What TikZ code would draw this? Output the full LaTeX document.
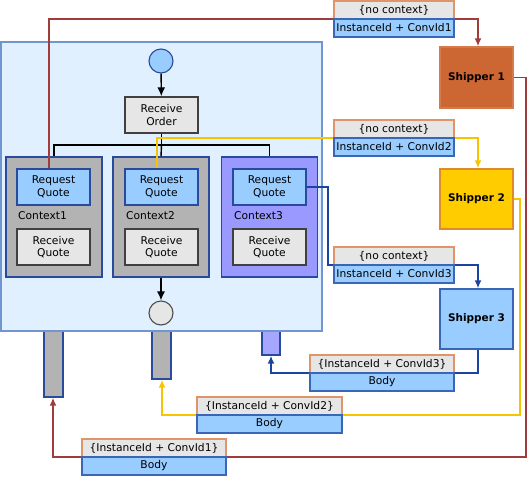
\documentclass[tikz,border=0pt]{standalone}
\usepackage{fontspec}
\setmainfont{DejaVu Sans}
\usetikzlibrary{arrows.meta}
\definecolor{contfill}{HTML}{E0F0FF}
\definecolor{contdraw}{HTML}{7095D0}
\definecolor{ctxgray}{HTML}{B3B3B3}
\definecolor{ctxblue}{HTML}{9999FF}
\definecolor{bar3fill}{HTML}{A6A6FF}
\definecolor{darkblue}{HTML}{2A4A9E}
\definecolor{lightblue}{HTML}{99CCFF}
\definecolor{boxgray}{HTML}{E6E6E6}
\definecolor{msgorange}{HTML}{E0946A}
\definecolor{msgblue}{HTML}{3A66B8}
\definecolor{shipA}{HTML}{CC6633}
\definecolor{shipAd}{HTML}{D67A4C}
\definecolor{shipB}{HTML}{FFCC00}
\definecolor{shipBd}{HTML}{E08A2E}
\definecolor{linered}{HTML}{A03C3C}
\definecolor{lineyellow}{HTML}{F8C400}
\definecolor{lineblue}{HTML}{1A44A0}
\tikzset{
  txt/.style={font=\fontsize{10.7}{12.7}\selectfont, align=center, inner sep=0pt, text=black},
  container/.style={draw=contdraw, fill=contfill, line width=1.4pt, inner sep=0pt},
  ctxbox/.style={draw=darkblue, fill=ctxgray, line width=1.4pt, inner sep=0pt, minimum width=96pt, minimum height=120pt},
  reqbox/.style={txt, draw=darkblue, fill=lightblue, line width=1.4pt, minimum width=73pt, minimum height=36pt},
  recbox/.style={txt, draw=black!75, fill=boxgray, line width=1.4pt, minimum width=73pt, minimum height=36pt},
  barbox/.style={draw=darkblue, fill=ctxgray, line width=1.4pt, inner sep=0pt, minimum width=19pt},
  ship/.style={txt, font=\fontsize{10.5}{12.5}\selectfont\bfseries, line width=1.4pt, minimum width=73pt, minimum height=60pt},
  msgup/.style={txt, draw=msgorange, fill=boxgray, line width=1.4pt, minimum height=18pt},
  msglo/.style={txt, draw=msgblue, fill=lightblue, line width=1.4pt, minimum height=18pt},
  circ/.style={circle, draw=black!70, line width=1.1pt, minimum size=24pt, inner sep=0pt},
  flow/.style={line width=1.4pt, black, -{Latex[length=9pt,width=8pt]}},
  bus/.style={line width=1.4pt, black},
  conn/.style={line width=1.5pt, -{Latex[length=8pt,width=7pt]}},
}
\begin{document}
\begin{tikzpicture}[x=1pt,y=-1pt]
\useasboundingbox (0,0) rectangle (529,476);
% container
\node[container, minimum width=321pt, minimum height=289pt] (cont) at (161.5,186.5) {};
% bars
\node[barbox, minimum height=66pt] (bar1) at (53.5,364) {};
\node[barbox, minimum height=48pt] (bar2) at (161.5,355) {};
\node[barbox, fill=bar3fill, minimum width=18pt, minimum height=24pt] (bar3) at (271,343) {};
\node[container, minimum width=321pt, minimum height=289pt] (cont) at (161.5,186.5) {};
% start
\node[circ, draw=darkblue, fill=lightblue] (start) at (161,61) {};
\node[recbox] (ro) at (161.5,115) {Receive\\Order};
% contexts
\node[ctxbox] (ctx1) at (54,217) {};
\node[ctxbox] (ctx2) at (161,217) {};
\node[ctxbox, fill=ctxblue] (ctx3) at (269.5,217) {};
\node[reqbox] (rq1) at (53.5,187) {Request\\Quote};
\node[reqbox] (rq2) at (161.5,187) {Request\\Quote};
\node[reqbox] (rq3) at (269.5,187) {Request\\Quote};
\node[txt, anchor=west] (cl1) at (18,216) {Context1};
\node[txt, anchor=west] (cl2) at (126,216) {Context2};
\node[txt, anchor=west] (cl3) at (234,216) {Context3};
\node[recbox] (rc1) at (53.5,247) {Receive\\Quote};
\node[recbox] (rc2) at (161.5,247) {Receive\\Quote};
\node[recbox] (rc3) at (269.5,247) {Receive\\Quote};
\node[circ, fill=boxgray] (end) at (161,313) {};
% flow
\draw[flow] (start) -- (ro);
\coordinate (busc) at (161.5,145);
\draw[bus] (ro.south) -- (busc);
\draw[bus] (ctx1.north) |- (busc) -| (ctx3.north);
\draw[bus] (busc) -- (ctx2.north);
\draw[flow] (ctx2.south) -- (end);
% shippers
\node[ship, fill=shipA, draw=shipAd, minimum height=61pt] (s1) at (476.5,77.5) {Shipper 1};
\node[ship, fill=shipB, draw=shipBd] (s2) at (476.5,199) {Shipper 2};
\node[ship, fill=lightblue, draw=msgblue] (s3) at (476.5,319) {Shipper 3};
% corner coordinates
\coordinate (rc) at (526,457);
\coordinate (yc) at (520,415);
\coordinate (bc) at (328,265);
\coordinate (r1y) at (49,19);
\coordinate (y1y) at (157,138);
% connectors
\draw[conn, linered] ([xshift=-4.5pt]rq1.north) -- (r1y) -| ([xshift=1.5pt]s1.north);
\draw[conn, linered] (s1.east) -| (rc) -| ([xshift=-0.5pt]bar1.south);
\draw[conn, lineyellow] ([xshift=-4.5pt]rq2.north) -- (y1y) -| ([xshift=1.5pt]s2.north);
\draw[conn, lineyellow] (s2.east) -| (yc) -| ([xshift=0.5pt]bar2.south);
\draw[conn, lineblue] (rq3.east) -| (bc) -| ([xshift=1.5pt]s3.north);
\coordinate (b2y) at (478,373);
\draw[conn, lineblue] ([xshift=1.5pt]s3.south) -- (b2y) -| (bar3.south);
% messages
\node[msgup, minimum width=120pt] (m1u) at (394,10) {\{no context\}};
\node[msglo, minimum width=120pt] (m1l) at (394,28) {InstanceId + ConvId1};
\node[msgup, minimum width=120pt] (m2u) at (394,129) {\{no context\}};
\node[msglo, minimum width=120pt] (m2l) at (394,147) {InstanceId + ConvId2};
\node[msgup, minimum width=120pt] (m3u) at (394,256) {\{no context\}};
\node[msglo, minimum width=120pt] (m3l) at (394,274) {InstanceId + ConvId3};
\node[msgup, minimum width=144pt] (n3u) at (382,364) {\{InstanceId + ConvId3\}};
\node[msglo, minimum width=144pt] (n3l) at (382,382) {Body};
\node[msgup, minimum width=145pt] (n2u) at (269.5,406) {\{InstanceId + ConvId2\}};
\node[msglo, minimum width=145pt] (n2l) at (269.5,424) {Body};
\node[msgup, minimum width=144pt] (n1u) at (154,448) {\{InstanceId + ConvId1\}};
\node[msglo, minimum width=144pt] (n1l) at (154,466) {Body};
\end{tikzpicture}
\end{document}
